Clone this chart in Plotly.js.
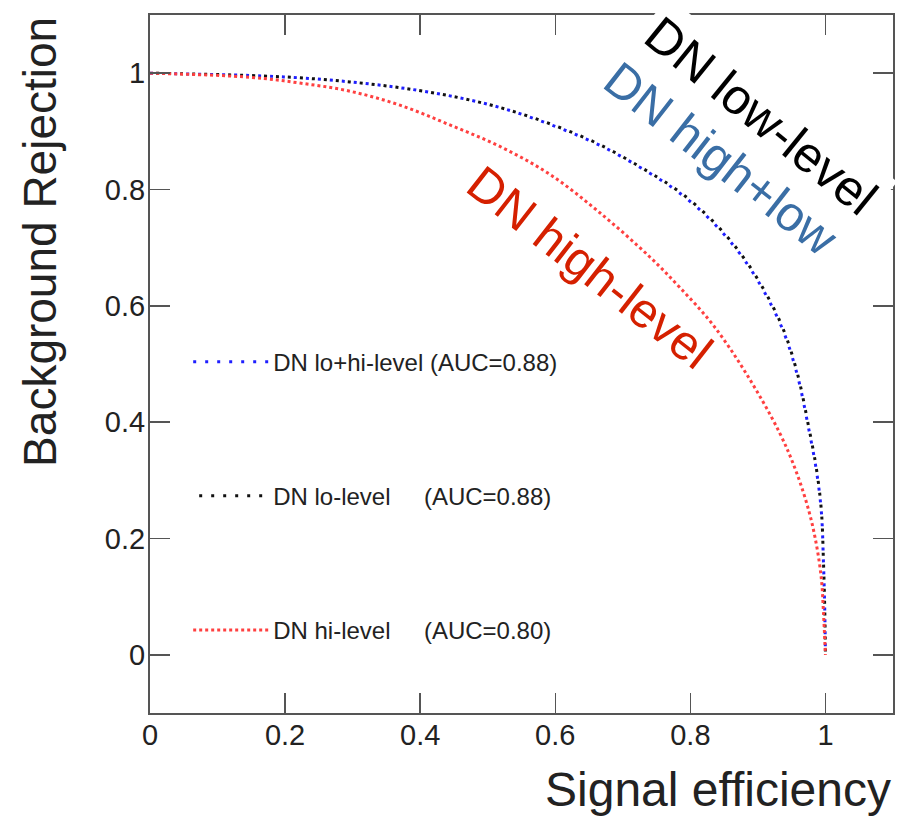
<!DOCTYPE html>
<html>
<head>
<meta charset="utf-8">
<script src="https://cdn.plot.ly/plotly-3.0.1.min.js"></script>
<style>html,body{margin:0;padding:0;background:#fff;}#chart{width:903px;height:818px;}</style>
</head>
<body>
<div id="chart"></div>
<script>
// Signal efficiency (x) and background rejection (y)
const effLoHi = [0, 0.148, 0.222, 0.296, 0.370, 0.444, 0.518, 0.592, 0.666, 0.740, 0.784, 0.833, 0.883, 0.932, 0.957, 0.976, 0.987, 0.994, 0.997, 0.999, 1.0];
const rejLoHi = [1.0, 0.996, 0.992, 0.985, 0.975, 0.961, 0.941, 0.912, 0.876, 0.828, 0.794, 0.744, 0.674, 0.572, 0.487, 0.384, 0.314, 0.245, 0.160, 0.074, 0.0];

const effLo = [0, 0.148, 0.222, 0.296, 0.370, 0.444, 0.518, 0.592, 0.666, 0.740, 0.784, 0.833, 0.883, 0.932, 0.957, 0.976, 0.987, 0.994, 0.997, 0.999, 1.0];
const rejLo = [1.0, 0.996, 0.992, 0.985, 0.975, 0.961, 0.941, 0.913, 0.877, 0.829, 0.796, 0.746, 0.676, 0.575, 0.490, 0.387, 0.317, 0.247, 0.162, 0.076, 0.0];

const effHi = [0, 0.148, 0.222, 0.296, 0.370, 0.444, 0.518, 0.592, 0.666, 0.740, 0.784, 0.833, 0.883, 0.932, 0.957, 0.976, 0.987, 0.994, 0.997, 1.0];
const rejHi = [1.0, 0.993, 0.983, 0.969, 0.945, 0.911, 0.874, 0.826, 0.760, 0.684, 0.632, 0.568, 0.483, 0.382, 0.314, 0.245, 0.187, 0.130, 0.074, 0.0];

const legendNames = [
  "DN lo+hi-level (AUC=0.88)",
  "DN lo-level\u00a0\u00a0\u00a0\u00a0\u00a0(AUC=0.88)",
  "DN hi-level\u00a0\u00a0\u00a0\u00a0\u00a0(AUC=0.80)"
];
const labelTexts = ["DN low-level", "DN high+low", "DN high-level"];
const xTickVals = [0, 0.2, 0.4, 0.6, 0.8, 1];
const xTickText = ["0", "0.2", "0.4", "0.6", "0.8", "1"];
const yTickVals = [0, 0.2, 0.4, 0.6, 0.8, 1];
const yTickText = ["0", "0.2", "0.4", "0.6", "0.8", "1"];

const FONT = "Liberation Sans, Arial, Helvetica, sans-serif";

const traces = [
  {x: effLoHi, y: rejLoHi, name: legendNames[0], legendgroup: "a", mode: "lines",
   line: {color: "#1f1fff", width: 3, dash: "3px,9px", shape: "spline"}},
  {x: effLo, y: rejLo, name: legendNames[1], legendgroup: "b", mode: "lines",
   line: {color: "#111111", width: 3, dash: "0px,6px,3px,3px", shape: "spline"}},
  {x: effHi, y: rejHi, name: legendNames[2], legendgroup: "c", mode: "lines",
   line: {color: "#ff4040", width: 3, dash: "dot", shape: "spline"}}
];

const axisCommon = {
  showgrid: false, zeroline: false, showline: true, linecolor: "#555", linewidth: 2,
  mirror: "allticks", ticks: "inside", ticklen: 20, tickwidth: 1.5, tickcolor: "#555",
  tickfont: {family: FONT, size: 29, color: "#222"}, tickmode: "array"
};

const layout = {
  width: 903, height: 818,
  margin: {l: 150, r: 10, t: 15, b: 105},
  paper_bgcolor: "#fff", plot_bgcolor: "#fff",
  font: {family: FONT},
  xaxis: Object.assign({}, axisCommon, {range: [0, 1.1], tickvals: xTickVals, ticktext: xTickText, ticklabelstandoff: -5}),
  yaxis: Object.assign({}, axisCommon, {range: [-0.1, 1.1], tickvals: yTickVals, ticktext: yTickText, ticklabelstandoff: -3}),
  showlegend: true,
  legend: {
    x: 0.0514, y: 0.535, xanchor: "left", yanchor: "top",
    bgcolor: "rgba(0,0,0,0)", borderwidth: 0, traceorder: "grouped",
    font: {family: FONT, size: 24, color: "#222"},
    tracegroupgap: 100, itemwidth: 75
  },
  annotations: [
    {xref: "paper", yref: "paper", x: -0.148, y: 0.675, xanchor: "center", yanchor: "middle",
     text: "Background Rejection", textangle: -90,
     showarrow: false, font: {family: FONT, size: 46, color: "#222"}},
    {xref: "paper", yref: "paper", x: 1.0, y: -0.11, xanchor: "right", yanchor: "middle",
     text: "Signal efficiency",
     showarrow: false, font: {family: FONT, size: 48, color: "#222"}},
    {x: 0.905, y: 0.927, xanchor: "center", yanchor: "middle", text: labelTexts[0], textangle: 39,
     showarrow: false, bgcolor: "#fff", borderpad: 6,
     font: {family: FONT, size: 50, color: "#000"}},
    {x: 0.846, y: 0.852, xanchor: "center", yanchor: "middle", text: labelTexts[1], textangle: 38,
     showarrow: false, font: {family: FONT, size: 49, color: "#3a6ea5"}},
    {x: 0.651, y: 0.667, xanchor: "center", yanchor: "middle", text: labelTexts[2], textangle: 38,
     showarrow: false, font: {family: FONT, size: 49, color: "#d52000"}}
  ]
};

Plotly.newPlot("chart", traces, layout, {displayModeBar: false, staticPlot: true});
</script>
</body>
</html>
